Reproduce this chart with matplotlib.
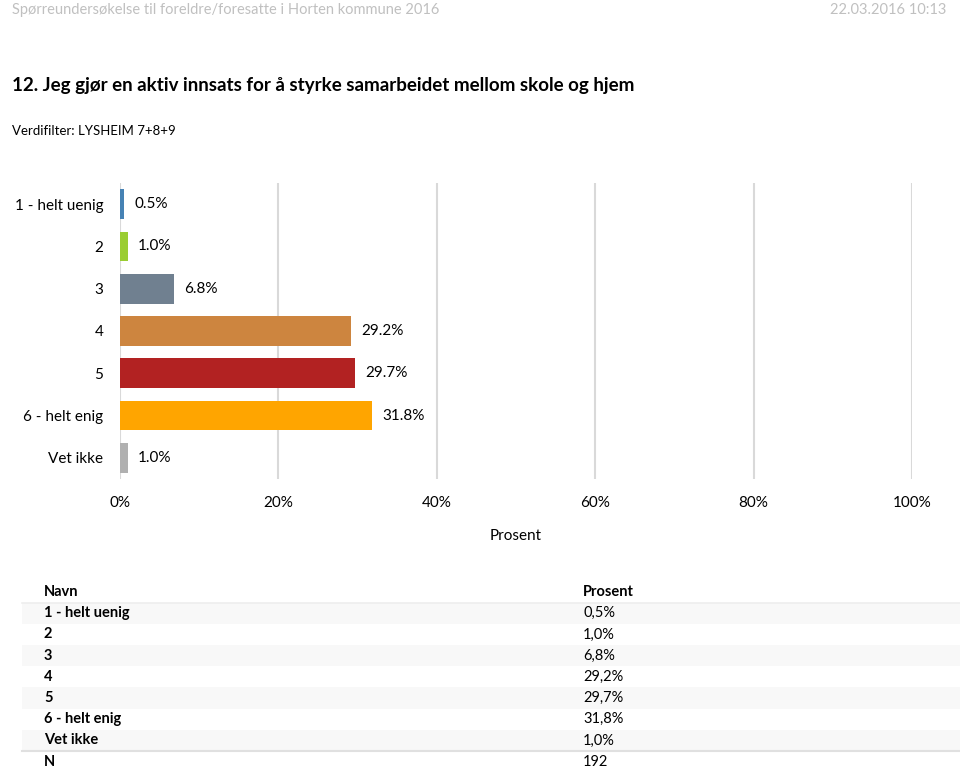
import numpy as np
import matplotlib.pyplot as plt
from matplotlib.patches import Rectangle
from matplotlib.lines import Line2D

plt.rcParams['font.family'] = ['Lato', 'DejaVu Sans']

# data
categories = ['1 - helt uenig', '2', '3', '4', '5', '6 - helt enig', 'Vet ikke']
values = [0.5, 1.0, 6.8, 29.2, 29.7, 31.8, 1.0]
bar_colors = ['steelblue', 'yellowgreen', 'slategray', 'peru', 'firebrick', 'orange', '#b0b0b0']
table_values = ['0,5%', '1,0%', '6,8%', '29,2%', '29,7%', '31,8%', '1,0%']
n_total = '192'
x_ticks = [0, 20, 40, 60, 80, 100]

W, H = 960, 769
fig = plt.figure(figsize=(W / 100, H / 100), dpi=100)


def fx(px):
    return px / W


def fy(py):
    return 1 - py / H


# header
fig.text(fx(12), fy(10), 'Spørreundersøkelse til foreldre/foresatte i Horten kommune 2016',
         color='#c0c0c0', fontsize=10.5, va='center', ha='left')
fig.text(fx(946), fy(10), '22.03.2016 10:13', color='#c0c0c0', fontsize=10.5,
         va='center', ha='right')
fig.text(fx(12), fy(86), '12. Jeg gjør en aktiv innsats for å styrke samarbeidet mellom skole og hjem',
         fontsize=13.5, fontweight='bold', va='center', ha='left')
fig.text(fx(12), fy(131), 'Verdifilter: LYSHEIM 7+8+9', fontsize=9.5, va='center', ha='left')

# chart
ax = fig.add_axes([fx(120), fy(479), fx(912) - fx(120), fy(183) - fy(479)])
y = np.arange(len(categories))
ax.barh(y, values, height=0.7, color=bar_colors, zorder=3)
for yi, v in zip(y, values):
    ax.text(v + 1.3, yi, f'{v:.1f}%', va='center', ha='left', fontsize=11)

ax.set_xlim(0, 100)
ax.set_ylim(len(categories) - 0.5, -0.5)
ax.set_xticks(x_ticks)
ax.set_xticklabels([f'{t}%' for t in x_ticks], fontsize=11)
ax.set_yticks(y)
ax.set_yticklabels(categories, fontsize=11)
ax.tick_params(length=0)
ax.tick_params(axis='x', pad=12)
ax.tick_params(axis='y', pad=12)
ax.grid(axis='x', color='#d9d9d9', linewidth=1.5, zorder=0)
for s in ax.spines.values():
    s.set_visible(False)
ax.set_xlabel('Prosent', fontsize=11, labelpad=14)

# table
row_h = 21.2
header_y = 592
col1, col2 = 44, 583
for i in range(len(categories)):
    cy = header_y + row_h * (i + 1)
    if i % 2 == 0:
        fig.patches.append(Rectangle((fx(22), fy(cy + row_h / 2)), fx(960) - fx(22), row_h / H,
                                     transform=fig.transFigure, facecolor='#f8f8f8',
                                     edgecolor='none', zorder=0))

fig.add_artist(Line2D([fx(22), fx(960)], [fy(header_y + row_h / 2)] * 2, color='#eeeeee', lw=1.2))
fig.add_artist(Line2D([fx(22), fx(960)], [fy(header_y + row_h * 7.5)] * 2, color='#e0e0e0', lw=1.5))

fig.text(fx(col1), fy(header_y), 'Navn', fontsize=10.5, fontweight='bold', va='center')
fig.text(fx(col2), fy(header_y), 'Prosent', fontsize=10.5, fontweight='bold', va='center')
for i, (c, tv) in enumerate(zip(categories, table_values)):
    cy = header_y + row_h * (i + 1)
    fig.text(fx(col1), fy(cy), c, fontsize=10.5, fontweight='bold', va='center')
    fig.text(fx(col2), fy(cy), tv, fontsize=10.5, va='center')
cy = header_y + row_h * 8
fig.text(fx(col1), fy(cy), 'N', fontsize=10.5, fontweight='bold', va='center')
fig.text(fx(col2), fy(cy), n_total, fontsize=10.5, va='center')

fig.savefig('out.png', dpi=100)
